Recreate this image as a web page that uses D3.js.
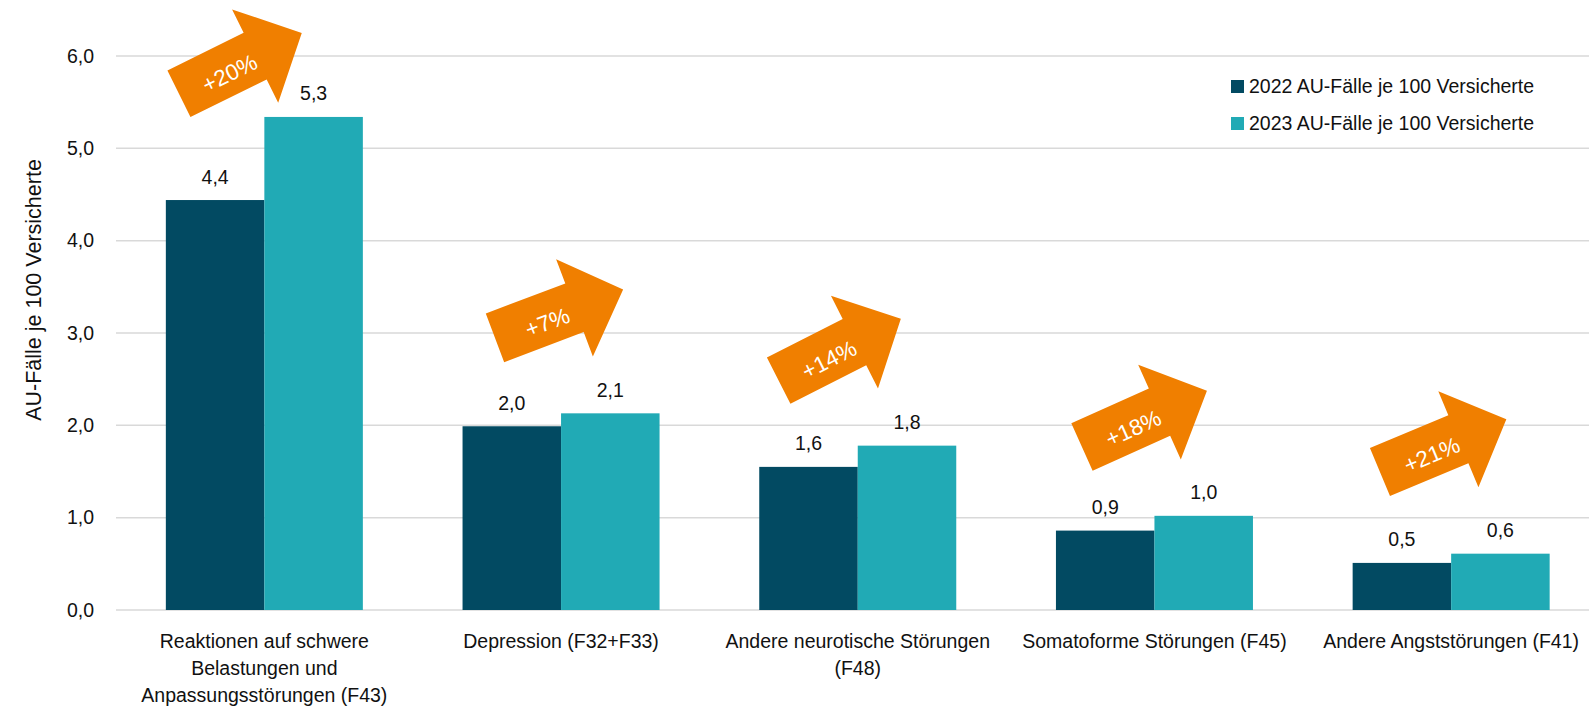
<!DOCTYPE html>
<html>
<head>
<meta charset="utf-8">
<script src="https://cdn.jsdelivr.net/npm/d3@7"></script>
<style>
  body { margin: 0; background: #fff; }
  text { font-family: 'Liberation Sans', Arial, sans-serif; fill: #111; }
</style>
</head>
<body>
<div id="chart"></div>
<script>
// Categories (x axis labels, split into lines)
const categories = [
  ['Reaktionen auf schwere', 'Belastungen und', 'Anpassungsstörungen (F43)'],
  ['Depression (F32+F33)'],
  ['Andere neurotische Störungen', '(F48)'],
  ['Somatoforme Störungen (F45)'],
  ['Andere Angststörungen (F41)']
]
const seriesNames = ['2022 AU-Fälle je 100 Versicherte', '2023 AU-Fälle je 100 Versicherte']
const values2022 = [4.44, 1.99, 1.55, 0.86, 0.51]
const values2023 = [5.34, 2.13, 1.78, 1.02, 0.61]
const changeLabels = ['+20%', '+7%', '+14%', '+18%', '+21%']
const yTicks = [0, 1, 2, 3, 4, 5, 6]

// arrow placement per category: offset from group centre, centre height in data units, angle
const arrowPlace = [
  { dx: -24, y: 5.92, angle: -26.3 },
  { dx: -2, y: 3.21, angle: -20.7 },
  { dx: -18, y: 2.82, angle: -26.9 },
  { dx: -10, y: 2.07, angle: -24.2 },
  { dx: -8, y: 1.78, angle: -22.7 }
]

const W = 1589, H = 707
const colors = ['#024a62', '#21aab5']
const orange = '#f07f00'

var svg = d3.select('#chart').append('svg')
  .attr('width', W).attr('height', H)

var x0 = d3.scaleBand()
  .domain(d3.range(categories.length))
  .range([116, 1599.5])
  .paddingInner(0.336)
  .paddingOuter(0.168)

var x1 = d3.scaleBand().domain([0, 1]).range([0, x0.bandwidth()])

var y = d3.scaleLinear().domain([0, 6]).range([610, 56])

// gridlines
svg.append('g')
  .selectAll('line')
  .data(yTicks)
  .enter()
  .append('line')
  .attr('x1', 116).attr('x2', W)
  .attr('y1', d => y(d)).attr('y2', d => y(d))
  .attr('stroke', '#d9d9d9')
  .attr('stroke-width', 1.5)

// y tick labels
svg.append('g')
  .selectAll('text')
  .data(yTicks)
  .enter()
  .append('text')
  .attr('x', 94)
  .attr('y', d => y(d))
  .attr('dy', '0.35em')
  .attr('text-anchor', 'end')
  .style('font-size', '19.5px')
  .text(d => d3.format('.1f')(d).replace('.', ','))

// y axis title
svg.append('text')
  .attr('transform', 'translate(41,290) rotate(-90)')
  .attr('text-anchor', 'middle')
  .style('font-size', '21.5px')
  .text('AU-Fälle je 100 Versicherte')

// bars
var rows = categories.map((c, i) => ({ i: i, vals: [values2022[i], values2023[i]] }))

var groups = svg.append('g')
  .selectAll('g')
  .data(rows)
  .enter()
  .append('g')
  .attr('transform', d => 'translate(' + x0(d.i) + ',0)')

groups.selectAll('rect')
  .data(d => d.vals.map((v, s) => ({ s: s, v: v })))
  .enter()
  .append('rect')
  .attr('x', d => x1(d.s))
  .attr('y', d => y(d.v))
  .attr('width', x1.bandwidth())
  .attr('height', d => y(0) - y(d.v))
  .attr('fill', d => colors[d.s])

// value labels
groups.selectAll('text')
  .data(d => d.vals.map((v, s) => ({ s: s, v: v })))
  .enter()
  .append('text')
  .attr('x', d => x1(d.s) + x1.bandwidth() / 2)
  .attr('y', d => y(d.v) - 16.5)
  .attr('text-anchor', 'middle')
  .style('font-size', '19.5px')
  .text(d => d3.format('.1f')(d.v).replace('.', ','))

// category labels
var catG = svg.append('g')
  .selectAll('text')
  .data(categories)
  .enter()
  .append('text')
  .attr('text-anchor', 'middle')
  .style('font-size', '19.5px')

catG.selectAll('tspan')
  .data((d, i) => d.map(line => ({ line: line, i: i })))
  .enter()
  .append('tspan')
  .attr('x', d => x0(d.i) + x0.bandwidth() / 2)
  .attr('y', (d, j) => 648 + j * 27)
  .text(d => d.line)

// change arrows
var arrowLen = 137, shaftLen = 85, shaftHalf = 26, headHalf = 52
var arrowPath = 'M' + (-arrowLen / 2) + ',' + (-shaftHalf) +
  'L' + (shaftLen - arrowLen / 2) + ',' + (-shaftHalf) +
  'L' + (shaftLen - arrowLen / 2) + ',' + (-headHalf) +
  'L' + (arrowLen / 2) + ',0' +
  'L' + (shaftLen - arrowLen / 2) + ',' + headHalf +
  'L' + (shaftLen - arrowLen / 2) + ',' + shaftHalf +
  'L' + (-arrowLen / 2) + ',' + shaftHalf + 'Z'

var arrows = svg.append('g')
  .selectAll('g')
  .data(arrowPlace.map((a, i) => Object.assign({ i: i, label: changeLabels[i] }, a)))
  .enter()
  .append('g')
  .attr('transform', d => 'translate(' + (x0(d.i) + x0.bandwidth() / 2 + d.dx) + ',' + y(d.y) + ') rotate(' + d.angle + ')')

arrows.append('path')
  .attr('d', arrowPath)
  .attr('fill', orange)

arrows.append('text')
  .attr('x', -14)
  .attr('y', 4)
  .attr('dy', '0.35em')
  .attr('text-anchor', 'middle')
  .style('font-size', '22.5px')
  .style('fill', '#fff')
  .text(d => d.label)

// legend
var legend = svg.append('g')
  .selectAll('g')
  .data(seriesNames)
  .enter()
  .append('g')
  .attr('transform', (d, i) => 'translate(1231,' + (80 + i * 37) + ')')

legend.append('rect')
  .attr('width', 13).attr('height', 13)
  .attr('fill', (d, i) => colors[i])

legend.append('text')
  .attr('x', 18)
  .attr('y', 13)
  .style('font-size', '19.5px')
  .text(d => d)
</script>
</body>
</html>
